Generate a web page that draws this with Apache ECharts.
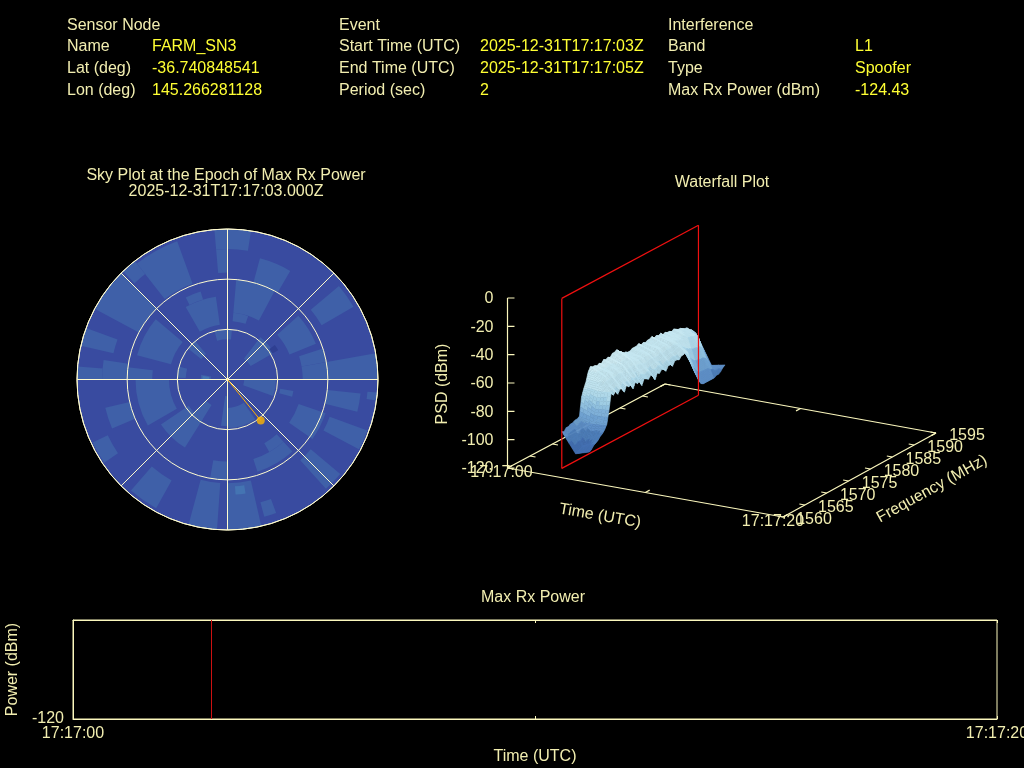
<!DOCTYPE html>
<html><head><meta charset="utf-8">
<style>html,body{margin:0;padding:0;background:#000;overflow:hidden}#c{width:1024px;height:768px}</style>
<script src="https://cdn.jsdelivr.net/npm/echarts@6/dist/echarts.min.js"></script>
</head><body><div id="c"></div>
<script>
// ---- header table
const headerTitles=['Sensor Node','Event','Interference'];
const nodeLabels=['Name','Lat (deg)','Lon (deg)'];
const nodeValues=['FARM_SN3','-36.740848541','145.266281128'];
const eventLabels=['Start Time (UTC)','End Time (UTC)','Period (sec)'];
const eventValues=['2025-12-31T17:17:03Z','2025-12-31T17:17:05Z','2'];
const interfLabels=['Band','Type','Max Rx Power (dBm)'];
const interfValues=['L1','Spoofer','-124.43'];
// ---- sky plot: [azStart, azEnd, zenithStart, zenithEnd], degrees
const skyBase=[[0,360,0,90]];
const skyLight=[
[355,369,78,90],[355,360,64,78],[322,340,61,88],[316,322,80,90],[298,315,60,90],[283,290,70,90],
[270,275,75,90],[270,279,60,75],[270,277,45,60],[240,270,35,55],[247,257,60,75],[236,245,79,89],
[209,221,69,88],[184,195,62,90],[167,180,62,90],[160,165,76,85],[180,190,49,60],[138,162,50,58],[138,150,44,50],
[130,138,65,88],[109,125,45,62],[110,118,65,89],[96,104,60,80],[95,98,84,90],[80,90,45,90],[72,80,45,60],
[50,60,65,87],[48,68,40,57],[15,30,60,75],[5,28,40,60],[5,18,35,40],[330,352,33,50],[333,343,50,55],
[285,310,35,56],[345,365,24,30],[272,285,25,30],[145,180,17,29],[180,188,10,28],[212,236,28,48],[212,226,18,30],
[90,110,10,29],[38,60,16,32],[100,105,32,40],[308,320,20,30],[270,280,10,16]
];
const skyBright=[[171,176,64,69],[270,278,11,15]];
const skyDark=[[54,60,31,35]];
const peakAz=141, peakZenith=31.6;
// ---- waterfall: PSD in dBm per time row
const waterfallFreq=[1562.90,1563.39,1563.88,1564.37,1564.86,1565.35,1565.84,1566.33,1566.82,1567.31,1567.80,1568.29,1568.78,1569.27,1569.76,1570.25,1570.74,1571.23,1571.72,1572.21,1572.70,1573.19,1573.68,1574.17,1574.66,1575.15,1575.64,1576.13,1576.62,1577.11,1577.60,1578.09,1578.58,1579.07,1579.56,1580.05,1580.54,1581.03,1581.52,1582.01,1582.50,1582.99,1583.48,1583.97,1584.46,1584.95,1585.44,1585.93,1586.42,1586.91,1587.40,1587.89,1588.38,1588.87,1589.36,1589.85,1590.34,1590.83,1591.32,1591.81,1592.30,1592.79,1593.28];
const psdT3=[-94,-95,-93,-93,-92,-92,-91,-91,-90,-77,-72,-68,-62,-59,-60,-60,-61,-60,-61,-59,-60,-59,-60,-58,-58,-57,-59,-60,-62,-62,-63,-63,-62,-62,-62,-61,-63,-62,-63,-62,-62,-61,-63,-62,-63,-62,-64,-63,-64,-64,-65,-64,-65,-66,-66,-67,-68,-68,-70,-71,-73,-75,-79];
const psdT4=[-108,-107,-106,-105,-106,-103,-101,-98,-92,-84,-74,-68,-65,-64,-65,-63,-64,-65,-63,-64,-64,-62,-64,-63,-63,-62,-64,-64,-65,-66,-65,-66,-65,-65,-66,-65,-66,-64,-65,-66,-65,-65,-66,-64,-65,-66,-66,-67,-67,-68,-68,-68,-69,-69,-70,-70,-72,-78,-84,-90,-95,-97,-97];
const psdT5=[-105,-104,-102,-101,-100,-98,-97,-95,-92,-83,-71,-74,-72,-75,-72,-73,-76,-72,-74,-73,-77,-73,-75,-74,-78,-74,-75,-76,-74,-75,-79,-75,-76,-74,-75,-77,-74,-74,-76,-73,-73,-74,-72,-72,-71,-72,-78,-83,-88,-92,-96,-99,-100,-100,-100,-100,-100,-100,-99,-99,-98,-96,-95];
const waterfallTimes=[3,4,5];
const waterfallRows=[psdT3,psdT4,psdT5];
const psdBandLimits=[-102,-97,-93,-88,-84,-80,-76,-72,-67,-62];
const psdBandColors=['#4470b2','#4f7fbb','#5f90c8','#6fa1d0','#7fb0d8','#8fbfde','#9fcde4','#afd8e9','#bfe2ee','#c6e7f1','#cdebf3'];
const timeTicks=[0,10,20], timeTickLabels=['17:17:00','','17:17:20'];
const freqTicks=[1560,1565,1570,1575,1580,1585,1590,1595];
const psdTicks=[0,-20,-40,-60,-80,-100,-120];
const markerFreq=[1562.9,1593.4];
// ---- max rx power strip
const powerRange=[-120,-110];
const markerTime=2.998;

const PALE='#f2eeb0', YEL='#ffff33', AXIS='#fbf7bd', GRIDC='#fffcd0', FONT='"Liberation Sans",Arial,sans-serif';
function project(t,f,z){
  const u=t/20, v=(f-1560)/35;
  return [507.5+u*275.5+v*157.5-u*v*4.5, 468+u*49-v*84-(z+120)*170/120];
}
function bandColor(z){let i=0;while(i<psdBandLimits.length&&z>psdBandLimits[i])i++;return psdBandColors[i];}

// graphic text
const g=[];
function txt(x,y,s,fill,align,rot){g.push({type:'text',x:x,y:y+2,rotation:rot||0,silent:true,z:30,
  style:{text:s,fill:fill,font:'16px '+FONT,align:align||'left',verticalAlign:'middle'}});}
const rowsY=[45,67,89];
[[67,152,nodeLabels,nodeValues,0],[339,480,eventLabels,eventValues,1],[668,855,interfLabels,interfValues,2]].forEach(c=>{
  txt(c[0],24,headerTitles[c[4]],PALE);
  rowsY.forEach((y,i)=>{txt(c[0],y,c[2][i],PALE);txt(c[1],y,c[3][i],YEL);});
});
txt(226,174,'Sky Plot at the Epoch of Max Rx Power',PALE,'center');
txt(226,190,'2025-12-31T17:17:03.000Z',PALE,'center');
txt(722,181,'Waterfall Plot',PALE,'center');
txt(533,596,'Max Rx Power',PALE,'center');
txt(443,382,'PSD (dBm)',PALE,'center',Math.PI/2);
txt(600,514,'Time (UTC)',PALE,'center',-10*Math.PI/180);
txt(932,487,'Frequency (MHz)',PALE,'center',29*Math.PI/180);

// waterfall cells, far to near
const cells=[];
for(let r=0;r<waterfallRows.length-1;r++)
  for(let c=waterfallFreq.length-2;c>=0;c--) cells.push([r,c]);
// frame segments
const zMin=-120,zMax=0,fMin=1560,fMax=1595,tMin=0,tMax=20;
const segs=[[tMin,fMin,zMin,tMax,fMin,zMin],[tMax,fMin,zMin,tMax,fMax,zMin],[tMax,fMax,zMin,tMin,fMax,zMin],[tMin,fMax,zMin,tMin,fMin,zMin],[tMin,fMin,zMin,tMin,fMin,zMax]];
freqTicks.forEach(f=>{segs.push([tMin,f,zMin,tMin+0.4,f,zMin]);segs.push([tMax,f,zMin,tMax-0.4,f,zMin]);});
timeTicks.forEach(t=>{segs.push([t,fMin,zMin,t,fMin+1,zMin]);segs.push([t,fMax,zMin,t,fMax-1,zMin]);});
psdTicks.forEach(z=>segs.push([tMin,fMin,z,tMin+0.38,fMin+0.39,z]));
const redSegs=[];
[[markerFreq[0],zMin,markerFreq[1],zMin],[markerFreq[1],zMin,markerFreq[1],zMax],[markerFreq[1],zMax,markerFreq[0],zMax],[markerFreq[0],zMax,markerFreq[0],zMin]]
  .forEach(s=>redSegs.push([markerTime,s[0],s[1],markerTime,s[2],s[3]]));
// tick labels
const labels=[];
psdTicks.forEach(z=>labels.push([tMin,fMin,z,String(z),-14,1,'right']));
timeTicks.forEach((t,i)=>{if(timeTickLabels[i])labels.push([t,fMin,zMin,timeTickLabels[i],t?-10:-6,5,'center']);});
freqTicks.forEach(f=>labels.push([tMax,f,zMin,String(f),31,3,'center']));

function lineItem(color,w){return function(p,api){
  const a=api.coord(project(api.value(0),api.value(1),api.value(2)));
  const b=api.coord(project(api.value(3),api.value(4),api.value(5)));
  return {type:'line',shape:{x1:a[0],y1:a[1],x2:b[0],y2:b[1]},style:{stroke:color,lineWidth:w}};
};}
function skyItem(color){return function(p,api){
  const cs=p.coordSys, s=api.value(0), e=api.value(1);
  const o0=api.coord([api.value(2),s]), o1=api.coord([api.value(3),s]);
  const r0=Math.hypot(o0[0]-cs.cx,o0[1]-cs.cy), r1=Math.hypot(o1[0]-cs.cx,o1[1]-cs.cy);
  return {type:'sector',shape:{cx:cs.cx,cy:cs.cy,r0:r0,r:r1,startAngle:(s-90)*Math.PI/180,endAngle:(e-90)*Math.PI/180,clockwise:true},
    style:{fill:color}};
};}
function skySeries(data,color,z){return {type:'custom',coordinateSystem:'polar',silent:true,animation:false,clip:false,z:z,
  data:data,renderItem:skyItem(color),dimensions:['a0','a1','r0','r1'],encode:{angle:0,radius:2}};}

const SUB=4;
const chart=echarts.init(document.getElementById('c'),null,{renderer:'canvas',width:1024,height:768});
chart.setOption({
  backgroundColor:'#000',animation:false,
  graphic:g,
  grid:[
    {left:73,top:620,width:924,height:99,show:true,borderColor:AXIS,borderWidth:1,backgroundColor:'transparent',containLabel:false,outerBoundsMode:'none'},
    {left:0,top:0,width:1024,height:768,show:false,containLabel:false,outerBoundsMode:'none'}
  ],
  xAxis:[
    {gridIndex:0,type:'value',min:0,max:20,interval:10,position:'bottom',
     axisLine:{show:true,lineStyle:{color:AXIS}},splitLine:{show:false},
     axisTick:{show:true,inside:true,length:3,lineStyle:{color:AXIS}},
     axisLabel:{color:PALE,fontSize:16,fontFamily:'Liberation Sans',margin:7,showMinLabel:true,showMaxLabel:true,hideOverlap:false,
       formatter:v=>timeTickLabels[timeTicks.indexOf(v)]||''},
     name:'Time (UTC)',nameLocation:'middle',nameGap:30,nameTextStyle:{color:PALE,fontSize:16,fontFamily:'Liberation Sans'}},
    {gridIndex:0,type:'value',min:0,max:20,interval:10,position:'top',
     axisLine:{show:true,lineStyle:{color:AXIS}},splitLine:{show:false},axisLabel:{show:false},
     axisTick:{show:true,inside:true,length:3,lineStyle:{color:AXIS}}},
    {gridIndex:1,type:'value',min:0,max:1024,show:false}
  ],
  yAxis:[
    {gridIndex:0,type:'value',min:powerRange[0],max:powerRange[1],interval:10,
     axisLine:{show:true,lineStyle:{color:AXIS}},axisTick:{show:false},splitLine:{show:false},
     axisLabel:{color:PALE,fontSize:16,fontFamily:'Liberation Sans',margin:9,showMaxLabel:false,
       formatter:v=>v===powerRange[0]?String(v):''},
     name:'Power (dBm)',nameLocation:'middle',nameRotate:90,nameGap:51,nameTextStyle:{color:PALE,fontSize:16,fontFamily:'Liberation Sans'}},
    {gridIndex:1,type:'value',min:0,max:768,inverse:true,show:false}
  ],
  polar:{center:[227.5,379.5],radius:150.5,outerBoundsMode:'none'},
  radiusAxis:{type:'value',min:0,max:90,interval:30,z:20,axisLine:{show:false},axisTick:{show:false},axisLabel:{show:false},
    splitLine:{show:true,lineStyle:{color:GRIDC,width:1}}},
  angleAxis:{type:'value',min:0,max:360,interval:45,startAngle:90,clockwise:true,z:20,
    axisLine:{show:true,lineStyle:{color:GRIDC,width:1}},axisTick:{show:false},axisLabel:{show:false},
    splitLine:{show:true,lineStyle:{color:GRIDC,width:1}}},
  series:[
    skySeries(skyBase,'#394ba0',1),
    skySeries(skyLight,'#3f60a8',2),
    skySeries(skyBright,'#4474b2',3),
    skySeries(skyDark,'#2f3f92',3),
    {type:'line',coordinateSystem:'polar',silent:true,z:25,symbol:'none',lineStyle:{color:'#ffb000',width:1},
     data:[[0,peakAz],[peakZenith,peakAz]]},
    {type:'scatter',coordinateSystem:'polar',silent:true,z:26,symbol:'circle',symbolSize:8,itemStyle:{color:'#ffb400'},
     data:[[peakZenith,peakAz]]},
    {type:'line',xAxisIndex:0,yAxisIndex:0,silent:true,symbol:'none',lineStyle:{color:'#cc1111',width:1},
     data:[[markerTime,powerRange[0]],[markerTime,powerRange[1]]]},
    {type:'custom',xAxisIndex:2,yAxisIndex:1,silent:true,clip:false,z:3,data:segs,renderItem:lineItem(AXIS,1.2)},
    {type:'custom',xAxisIndex:2,yAxisIndex:1,silent:true,clip:false,z:4,data:cells,
     renderItem:function(p,api){
       const r=api.value(0),c=api.value(1);
       const t0=waterfallTimes[r],t1=waterfallTimes[r+1],f0=waterfallFreq[c],f1=waterfallFreq[c+1];
       const a=waterfallRows[r][c],b=waterfallRows[r][c+1],d=waterfallRows[r+1][c],e=waterfallRows[r+1][c+1];
       const at=(i,j)=>{const s=i/SUB,q=j/SUB;return [t0+(t1-t0)*s,f0+(f1-f0)*q,(a*(1-q)+b*q)*(1-s)+(d*(1-q)+e*q)*s];};
       const kids=[];
       for(let i=0;i<SUB;i++)for(let j=SUB-1;j>=0;j--){
         const pts=[at(i,j),at(i,j+1),at(i+1,j+1),at(i+1,j)];
         const z=(pts[0][2]+pts[1][2]+pts[2][2]+pts[3][2])/4,col=bandColor(z);
         kids.push({type:'polygon',shape:{points:pts.map(q=>api.coord(project(q[0],q[1],q[2])))},
           style:{fill:col,stroke:col,lineWidth:0.6}});
       }
       return {type:'group',children:kids};
     }},
    {type:'custom',xAxisIndex:2,yAxisIndex:1,silent:true,clip:false,z:6,data:redSegs,renderItem:lineItem('#f01010',1.2)},
    {type:'custom',xAxisIndex:2,yAxisIndex:1,silent:true,clip:false,z:7,data:labels.map((l,i)=>[i,0]),
     renderItem:function(p,api){
       const l=labels[api.value(0)];
       const q=api.coord(project(l[0],l[1],l[2]));
       return {type:'text',x:q[0]+l[4],y:q[1]+l[5],style:{text:l[3],fill:PALE,font:'16px '+FONT,align:l[6],verticalAlign:'middle'}};
     }}
  ]
});
</script></body></html>
